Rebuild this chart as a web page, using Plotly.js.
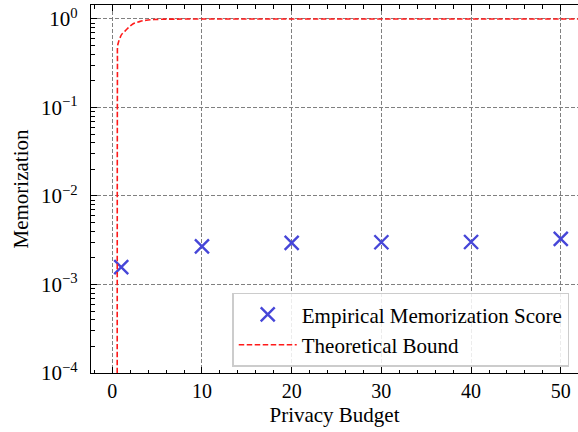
<!DOCTYPE html>
<html>
<head>
<meta charset="utf-8">
<script src="https://cdn.plot.ly/plotly-3.0.1.min.js"></script>
<style>html,body{margin:0;padding:0;overflow:hidden;background:#fff;}</style>
</head>
<body>
<div id="chart" style="width:578px;height:432px;"></div>
<script>
// Empirical memorization scores
const budgets = [1, 10, 20, 30, 40, 50];
const memScores = [0.00157, 0.0027, 0.00295, 0.0030, 0.00302, 0.00327];

// Theoretical bound curve
const boundX = [0.55, 0.58, 0.6, 0.7, 0.86, 1.05, 1.42, 1.8, 2.16, 2.5, 2.9, 3.4, 4.0, 4.6, 5.5, 7, 10, 15, 20, 30, 40, 50, 55];
const boundY = [0.00001, 0.3, 0.5, 0.55, 0.61, 0.67, 0.73, 0.80, 0.86, 0.90, 0.925, 0.955, 0.975, 0.985, 0.993, 0.997, 0.999, 1, 1, 1, 1, 1, 1];

// Axis ticks
const xTickVals = [0, 10, 20, 30, 40, 50];
const xTickText = ['0', '10', '20', '30', '40', '50'];
const yTickVals = [1e-4, 1e-3, 1e-2, 1e-1, 1];
const yTickText = ['10<sup>\u22124</sup>', '10<sup>\u22123</sup>', '10<sup>\u22122</sup>', '10<sup>\u22121</sup>', '10<sup>0</sup>'];

const yMinor = [];
for (let e = -4; e <= 0; e++) for (let m = 2; m <= 9; m++) yMinor.push(m * Math.pow(10, e));

const font = {family: '"Liberation Serif", "Times New Roman", serif', color: '#000'};

const traces = [
  {
    x: budgets, y: memScores, type: 'scatter', mode: 'markers',
    name: 'Empirical Memorization Score',
    marker: {symbol: 'x-thin', size: 14, color: '#4646d8', line: {color: '#4646d8', width: 2.4}}
  },
  {
    x: boundX, y: boundY, type: 'scatter', mode: 'lines',
    name: 'Theoretical Bound', line: {shape: 'spline', color: '#ff1a1a', width: 1.6, dash: '5.5px,2.5px'}
  }
];

const layout = {
  width: 578, height: 432,
  margin: {l: 91, r: 0, t: 5, b: 59},
  paper_bgcolor: '#fff', plot_bgcolor: '#fff',
  font: Object.assign({size: 20}, font),
  showlegend: true,
  legend: {
    x: 0.29, y: 0.218, xanchor: 'left', yanchor: 'top',
    bgcolor: 'rgba(255,255,255,0.85)', bordercolor: '#cccccc', borderwidth: 1.5,
    font: Object.assign({size: 21}, font), tracegroupgap: 0, itemwidth: 58
  },
  xaxis: {
    range: [-2.37, 51.92],
    tickmode: 'array', tickvals: xTickVals, ticktext: xTickText,
    ticks: 'inside', ticklen: 6, tickwidth: 1, tickcolor: '#000',
    showline: true, linecolor: '#000', linewidth: 1.2, mirror: 'allticks',
    showgrid: true, gridcolor: '#808080', gridwidth: 1, griddash: '4px,2px',
    zeroline: false,
    minor: {dtick: 2, ticks: 'inside', ticklen: 3.5, tickcolor: '#000', showgrid: false},
    tickfont: Object.assign({size: 20}, font),
    title: {text: 'Privacy Budget', font: Object.assign({size: 21}, font), standoff: 6}
  },
  yaxis: {
    type: 'log', range: [-4, 0.158],
    tickmode: 'array', tickvals: yTickVals, ticktext: yTickText,
    ticks: 'inside', ticklen: 6, tickwidth: 1, tickcolor: '#000',
    showline: true, linecolor: '#000', linewidth: 1.2, mirror: false,
    showgrid: true, gridcolor: '#808080', gridwidth: 1, griddash: '4px,2px',
    zeroline: false, ticklabelstandoff: 8,
    minor: {tickmode: 'array', tickvals: yMinor, ticks: 'inside', ticklen: 3.5, tickcolor: '#000', showgrid: false},
    tickfont: Object.assign({size: 21}, font),
    title: {text: 'Memorization', font: Object.assign({size: 21}, font), standoff: 6}
  }
};

Plotly.newPlot('chart', traces, layout, {displayModeBar: false, staticPlot: true});
</script>
</body>
</html>
